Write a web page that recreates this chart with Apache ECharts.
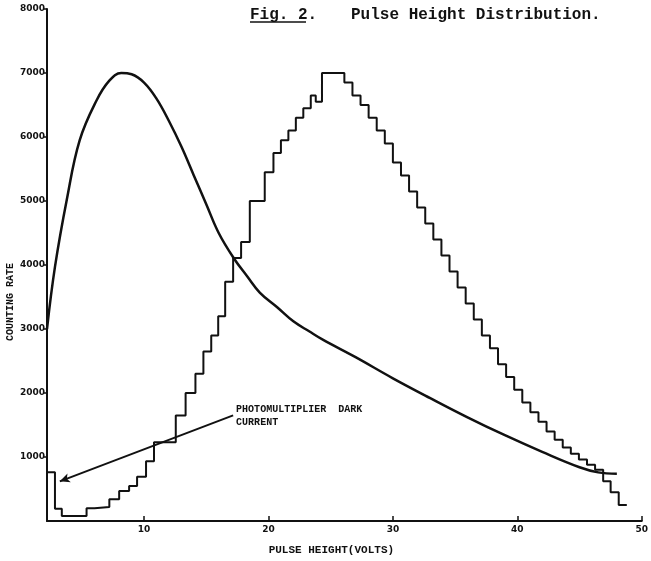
<!DOCTYPE html>
<html lang="en">
<head>
    <meta charset="UTF-8">
    <title>Pulse Height Distribution</title>
    <style>
        html, body { margin: 0; padding: 0; background: #fff; }
        #main { width: 651px; height: 561px; }
    </style>
</head>
<body>
<div id="main"></div>
<script src="https://cdn.jsdelivr.net/npm/echarts@6/dist/echarts.min.js"></script>
<script>
    // histogram: left edge of each bin (volts) and its counting rate
    var histEdges = [2.2, 2.84, 3.39, 5.38, 6.02, 7.21, 8.0, 8.8, 9.44, 10.16, 10.8, 12.55, 13.34, 14.13,
        14.77, 15.4, 15.96, 16.52, 17.16, 17.8, 18.5, 19.7, 20.4, 21.0, 21.6, 22.2, 22.8, 23.4, 23.8,
        24.3, 26.1, 26.75, 27.4, 28.05, 28.7, 29.35, 30.0, 30.65, 31.3, 31.95, 32.6, 33.25, 33.9, 34.55,
        35.2, 35.85, 36.5, 37.15, 37.8, 38.45, 39.1, 39.75, 40.4, 41.05, 41.7, 42.35, 43.0, 43.65, 44.3,
        44.95, 45.6, 46.25, 46.9, 47.5, 48.15, 48.8];
    var histCounts = [760, 190, 80, 200, 220, 340, 470, 545, 690, 935, 1230, 1650, 2000, 2300,
        2650, 2900, 3200, 3740, 4110, 4360, 5000, 5450, 5750, 5950, 6100, 6300, 6450, 6650, 6550,
        7000, 6850, 6650, 6500, 6300, 6100, 5900, 5600, 5400, 5150, 4900, 4650, 4400, 4150, 3900,
        3650, 3400, 3150, 2900, 2700, 2450, 2250, 2050, 1850, 1700, 1550, 1400, 1270, 1150, 1050,
        960, 880, 800, 620, 450, 250, 250];

    // photomultiplier dark current curve
    var curveVolts = [2.2, 2.84, 3.79, 4.83, 6.18, 7.21, 8.17, 9, 10, 11, 12, 13, 14, 15, 16, 17.2,
        18.3, 19.3, 20.7, 22.0, 23.3, 24.4, 27, 30, 33, 36, 39, 42, 45, 46.5, 48.0];
    var curveCounts = [3000, 3970, 5020, 5950, 6570, 6880, 7000, 6980, 6850, 6600, 6250, 5850, 5400,
        4950, 4500, 4110, 3820, 3570, 3340, 3120, 2960, 2830, 2560, 2230, 1920, 1620, 1340, 1080,
        840, 760, 740];

    var xTickValues = [10, 20, 30, 40, 50];
    var arrowFrom = [17.16, 1650];
    var arrowTo = [3.23, 620];
    var notePoint = [17.4, 1640];
    var noteText = 'PHOTOMULTIPLIER  DARK\nCURRENT';

    var histData = histEdges.map(function (v, i) { return [v, histCounts[i]]; });
    var curveData = curveVolts.map(function (v, i) { return [v, curveCounts[i]]; });

    var ink = '#111';
    var chart = echarts.init(document.getElementById('main'));

    chart.setOption({
        animation: false,
        backgroundColor: '#fff',
        title: {
            text: '{u|Fig. 2.}   Pulse Height Distribution.',
            left: 250,
            top: 7,
            padding: 0,
            textStyle: {
                fontFamily: 'Liberation Mono',
                fontWeight: 'bold',
                fontSize: 16,
                color: ink,
                rich: {
                    u: { fontFamily: 'Liberation Mono', fontWeight: 'bold', fontSize: 16, color: ink, padding: [0, 5, 0, 0] }
                }
            }
        },
        grid: { left: 47, right: 3, top: 9, bottom: 39 },
        xAxis: {
            type: 'value',
            min: 2.2,
            max: 50,
            name: 'PULSE HEIGHT(VOLTS)',
            nameLocation: 'middle',
            nameGap: 24,
            nameTextStyle: {
                fontFamily: 'Liberation Mono', fontWeight: 'bold', fontSize: 11, color: ink,
                padding: [0, 26, 0, 0]
            },
            splitLine: { show: false },
            axisLine: { lineStyle: { color: ink, width: 2 } },
            axisTick: { inside: true, length: 5, customValues: xTickValues, lineStyle: { color: ink, width: 1.5 } },
            axisLabel: {
                customValues: xTickValues, margin: 4,
                fontFamily: 'DejaVu Sans', fontWeight: 'bold', fontSize: 9, color: ink
            }
        },
        yAxis: {
            type: 'value',
            min: 0,
            max: 8000,
            interval: 1000,
            splitLine: { show: false },
            axisLine: { show: true, lineStyle: { color: ink, width: 2 } },
            axisTick: { show: true, length: 4, lineStyle: { color: ink, width: 1.5 } },
            axisLabel: {
                showMinLabel: false, margin: 2,
                formatter: function (v) { return String(v); },
                fontFamily: 'DejaVu Sans', fontWeight: 'bold', fontSize: 9, color: ink
            }
        },
        graphic: [
            {
                type: 'text',
                x: 10, y: 302,
                rotation: Math.PI / 2,
                style: {
                    text: 'COUNTING RATE', align: 'center', verticalAlign: 'middle',
                    font: 'bold 10px "Liberation Mono"', fill: ink
                }
            },
            {
                type: 'line',
                shape: { x1: 250, y1: 22, x2: 306, y2: 22 },
                style: { stroke: ink, lineWidth: 1.5 }
            }
        ],
        series: [
            {
                name: 'histogram',
                type: 'line',
                step: 'end',
                data: histData,
                showSymbol: false,
                lineStyle: { color: ink, width: 2 },
                markLine: {
                    silent: true,
                    symbol: ['none', 'arrow'],
                    symbolSize: [7, 10],
                    label: { show: false },
                    lineStyle: { color: ink, width: 2, type: 'solid' },
                    data: [[{ coord: arrowFrom }, { coord: arrowTo }]]
                },
                markPoint: {
                    silent: true,
                    symbol: 'circle',
                    symbolSize: 0,
                    itemStyle: { color: 'transparent' },
                    label: {
                        show: true, position: 'right', distance: 0, align: 'left',
                        formatter: noteText, lineHeight: 13,
                        fontFamily: 'Liberation Mono', fontWeight: 'bold', fontSize: 10, color: ink
                    },
                    data: [{ coord: notePoint }]
                }
            },
            {
                name: 'curve',
                type: 'line',
                smooth: 0.4,
                data: curveData,
                showSymbol: false,
                lineStyle: { color: ink, width: 2.5 }
            }
        ]
    });
</script>
</body>
</html>
